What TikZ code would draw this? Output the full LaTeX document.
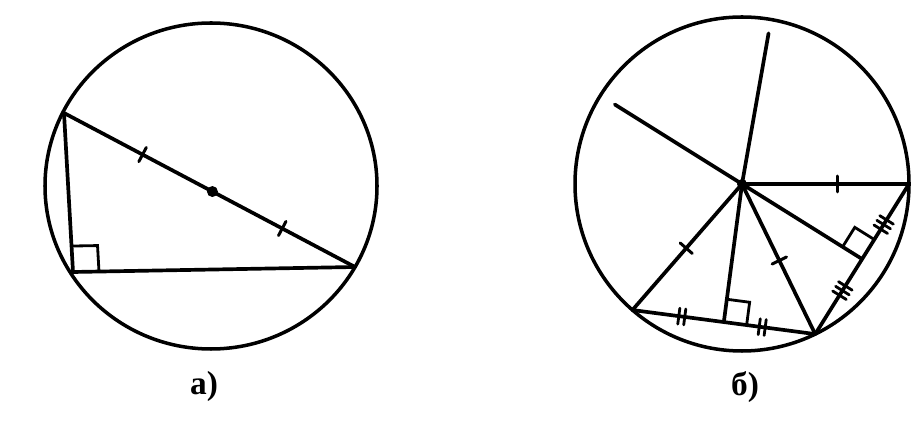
\documentclass[tikz,border=0pt]{standalone}
\usepackage{fontspec}
\setmainfont{Liberation Serif}
\usetikzlibrary{calc, decorations.markings}

\begin{document}
\begin{tikzpicture}[
  x=0.02cm, y=-0.02cm,
  seg/.style={line width=2.1pt, line cap=round},
  rim/.style={line width=2pt},
  ang/.style={line width=1.6pt},
  hash/.style={postaction={decorate, decoration={markings,
      mark=at position #1 with {\draw[line width=1.7pt] (0,-8) -- (0,8);}}}},
  hashtwo/.style={postaction={decorate, decoration={markings,
      mark=at position #1 with {\draw[line width=1.6pt] (-3,-8) -- (-3,8) (3,-8) -- (3,8);}}}},
  hashthree/.style={postaction={decorate, decoration={markings,
      mark=at position #1 with {\draw[line width=1.6pt] (-5.5,-8) -- (-5.5,8) (0,-8) -- (0,8) (5.5,-8) -- (5.5,8);}}}},
  figlabel/.style={font=\fontsize{19}{22}\selectfont\bfseries},
]
\useasboundingbox (0,0) rectangle (922,421);

% ---- figure a) ----
\coordinate (Oa) at (211,186);
\coordinate (A) at (64,113);
\coordinate (B) at (355,267);
\coordinate (C) at (73,272);
\draw[rim] (Oa) ellipse [x radius=166, y radius=163];
\draw[seg, hash=0.27, hash=0.75] (A) -- (B);
\draw[seg] (A) -- (C) -- (B);
\coordinate (Ma) at ($(A)!0.51!(B)$);
\fill (Ma) circle [radius=5.5];
% right angle at C
\coordinate (ca) at ($(C)!0.52cm!(A)$);
\coordinate (cb) at ($(C)!0.52cm!(B)$);
\draw[ang] (ca) -- ($(ca)+(cb)-(C)$) -- (cb);

% ---- figure b) ----
\coordinate (O) at (742,184);
\draw[rim] (O) circle [radius=167];
\coordinate (P1) at ($(O)+(131:167)$);
\coordinate (P2) at ($(O)+(64:167)$);
\coordinate (P3) at ($(O)+(0:167)$);
\coordinate (T1) at ($(O)+(-80:153)$);
\coordinate (T2) at ($(O)+(-148:150)$);
\coordinate (F1) at ($(P1)!0.5!(P2)$);
\coordinate (F2) at ($(P2)!0.5!(P3)$);

\draw[seg] (O) -- (T1);
\draw[seg] (O) -- (T2);
\draw[seg, hash=0.51] (O) -- (P1);
\draw[seg, hash=0.51] (O) -- (P2);
\draw[seg, hash=0.57] (O) -- (P3);
\draw[seg] (O) -- (F1);
\draw[seg] (O) -- (F2);
\draw[seg, hashtwo=0.27, hashtwo=0.71] (P1) -- (P2);
\draw[seg, hashthree=0.29, hashthree=0.73] (P2) -- (P3);
\fill (O) circle [radius=5];

% right angles at the feet
\coordinate (f1a) at ($(F1)!0.46cm!(P2)$);
\coordinate (f1b) at ($(F1)!0.46cm!(O)$);
\draw[ang] (f1a) -- ($(f1a)+(f1b)-(F1)$) -- (f1b);
\coordinate (f2a) at ($(F2)!0.46cm!(P3)$);
\coordinate (f2b) at ($(F2)!0.46cm!(O)$);
\draw[ang] (f2a) -- ($(f2a)+(f2b)-(F2)$) -- (f2b);

% ---- captions ----
\node[figlabel] (capa) at (204,386) {а)};
\node[figlabel] (capb) at (745,387) {б)};
\end{tikzpicture}
\end{document}
